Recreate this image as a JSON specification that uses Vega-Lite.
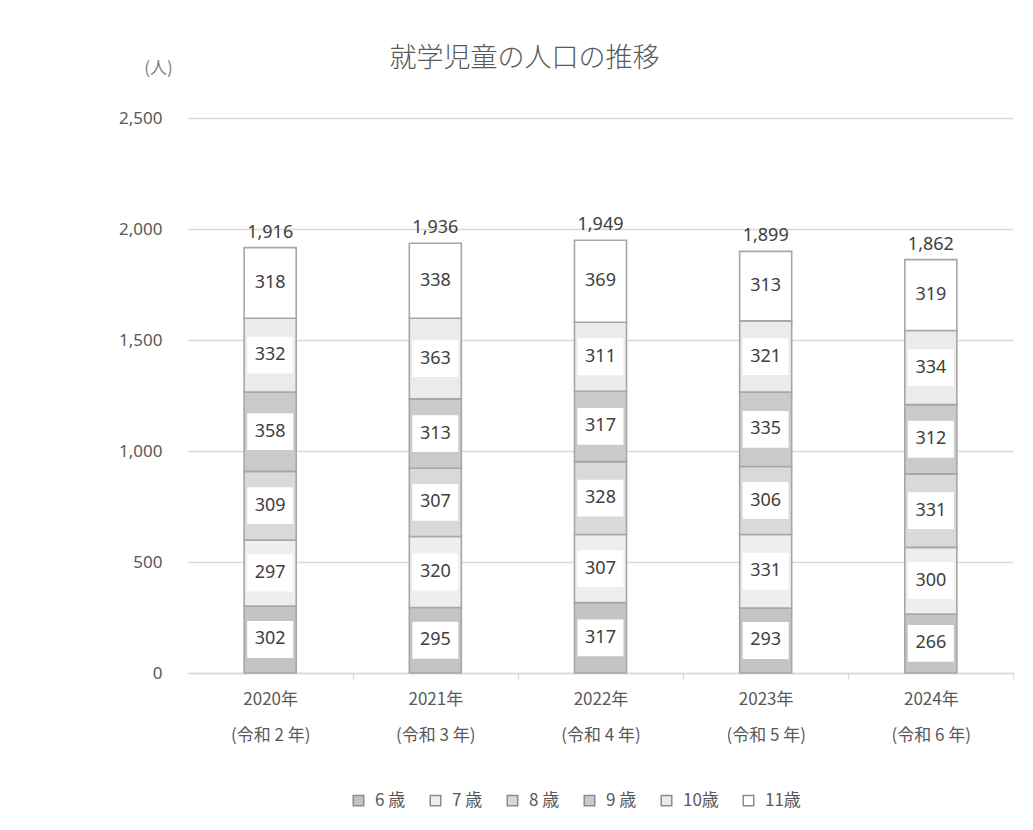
{
  "$schema": "https://vega.github.io/schema/vega-lite/v6.json",
  "autosize": "none",
  "width": 825,
  "height": 555,
  "padding": {"left": 188, "top": 118, "right": 20, "bottom": 157},
  "background": "white",
  "title": {
    "text": "就学児童の人口の推移",
    "anchor": "middle",
    "dx": -76,
    "offset": -14,
    "fontSize": 27,
    "font": "Noto Sans CJK JP",
    "fontWeight": 300,
    "color": "#595959"
  },
  "data": {
    "values": [
      {"year": "2020年|(令和 2 年)", "age": "6 歳", "order": 1, "value": 302},
      {"year": "2020年|(令和 2 年)", "age": "7 歳", "order": 2, "value": 297},
      {"year": "2020年|(令和 2 年)", "age": "8 歳", "order": 3, "value": 309},
      {"year": "2020年|(令和 2 年)", "age": "9 歳", "order": 4, "value": 358},
      {"year": "2020年|(令和 2 年)", "age": "10歳", "order": 5, "value": 332},
      {"year": "2020年|(令和 2 年)", "age": "11歳", "order": 6, "value": 318},
      {"year": "2021年|(令和 3 年)", "age": "6 歳", "order": 1, "value": 295},
      {"year": "2021年|(令和 3 年)", "age": "7 歳", "order": 2, "value": 320},
      {"year": "2021年|(令和 3 年)", "age": "8 歳", "order": 3, "value": 307},
      {"year": "2021年|(令和 3 年)", "age": "9 歳", "order": 4, "value": 313},
      {"year": "2021年|(令和 3 年)", "age": "10歳", "order": 5, "value": 363},
      {"year": "2021年|(令和 3 年)", "age": "11歳", "order": 6, "value": 338},
      {"year": "2022年|(令和 4 年)", "age": "6 歳", "order": 1, "value": 317},
      {"year": "2022年|(令和 4 年)", "age": "7 歳", "order": 2, "value": 307},
      {"year": "2022年|(令和 4 年)", "age": "8 歳", "order": 3, "value": 328},
      {"year": "2022年|(令和 4 年)", "age": "9 歳", "order": 4, "value": 317},
      {"year": "2022年|(令和 4 年)", "age": "10歳", "order": 5, "value": 311},
      {"year": "2022年|(令和 4 年)", "age": "11歳", "order": 6, "value": 369},
      {"year": "2023年|(令和 5 年)", "age": "6 歳", "order": 1, "value": 293},
      {"year": "2023年|(令和 5 年)", "age": "7 歳", "order": 2, "value": 331},
      {"year": "2023年|(令和 5 年)", "age": "8 歳", "order": 3, "value": 306},
      {"year": "2023年|(令和 5 年)", "age": "9 歳", "order": 4, "value": 335},
      {"year": "2023年|(令和 5 年)", "age": "10歳", "order": 5, "value": 321},
      {"year": "2023年|(令和 5 年)", "age": "11歳", "order": 6, "value": 313},
      {"year": "2024年|(令和 6 年)", "age": "6 歳", "order": 1, "value": 266},
      {"year": "2024年|(令和 6 年)", "age": "7 歳", "order": 2, "value": 300},
      {"year": "2024年|(令和 6 年)", "age": "8 歳", "order": 3, "value": 331},
      {"year": "2024年|(令和 6 年)", "age": "9 歳", "order": 4, "value": 312},
      {"year": "2024年|(令和 6 年)", "age": "10歳", "order": 5, "value": 334},
      {"year": "2024年|(令和 6 年)", "age": "11歳", "order": 6, "value": 319}
    ]
  },
  "transform": [
    {"stack": "value", "groupby": ["year"], "sort": [{"field": "order", "order": "ascending"}], "as": ["y0", "y1"]},
    {"calculate": "(datum.y0 + datum.y1) / 2", "as": "mid"}
  ],
  "encoding": {
    "x": {
      "field": "year",
      "type": "nominal",
      "sort": null,
      "title": null,
      "scale": {"paddingInner": 0.685, "paddingOuter": 0.34},
      "axis": {
        "labelExpr": "split(datum.label, '|')",
        "labelAngle": 0,
        "labelFontSize": 17,
        "labelFont": "Noto Sans CJK JP",
        "labelColor": "#595959",
        "labelLineHeight": 36,
        "labelPadding": 12,
        "ticks": true,
        "tickOffset": 82.5,
        "labelOffset": -82.5,
        "tickColor": "#d9d9d9",
        "tickSize": 6,
        "tickWidth": 1.3,
        "domainColor": "#d9d9d9",
        "domainWidth": 1.3,
        "grid": false
      }
    }
  },
  "layer": [
    {
      "mark": {"type": "bar", "stroke": "#a6a6a6", "strokeWidth": 1.6},
      "encoding": {
        "y": {
          "field": "y0",
          "type": "quantitative",
          "scale": {"domain": [0, 2500], "nice": false},
          "axis": {
            "values": [0, 500, 1000, 1500, 2000, 2500],
            "format": ",d",
            "title": "(人)",
            "titleAngle": 0,
            "titleX": -30,
            "titleY": -50,
            "titleAlign": "center",
            "titleBaseline": "middle",
            "titleFontSize": 17,
            "titleFontWeight": "normal",
            "titleFont": "Noto Sans CJK JP",
            "titleColor": "#7f7f7f",
            "labelFontSize": 17,
            "labelFont": "Noto Sans",
            "labelColor": "#595959",
            "labelPadding": 26,
            "ticks": false,
            "domain": false,
            "gridColor": "#d9d9d9",
            "gridWidth": 1.3
          }
        },
        "y2": {"field": "y1"},
        "color": {
          "field": "age",
          "type": "nominal",
          "sort": ["6 歳", "7 歳", "8 歳", "9 歳", "10歳", "11歳"],
          "scale": {
            "domain": ["6 歳", "7 歳", "8 歳", "9 歳", "10歳", "11歳"],
            "range": ["#c4c4c4", "#eeeeee", "#d9d9d9", "#cbcbcb", "#ebebeb", "#ffffff"]
          },
          "legend": {
            "title": null,
            "orient": "none",
            "direction": "horizontal",
            "legendX": 162,
            "legendY": 674,
            "symbolType": "square",
            "symbolSize": 110,
            "symbolStrokeColor": "#8c8c8c",
            "symbolStrokeWidth": 1.5,
            "labelFontSize": 17,
            "labelFont": "Noto Sans CJK JP",
            "labelColor": "#595959",
            "labelOffset": 8,
            "columnPadding": 21
          }
        }
      }
    },
    {
      "mark": {"type": "point", "shape": "M-1,-0.8H1V0.8H-1Z", "filled": true, "fill": "white", "opacity": 1, "strokeWidth": 0, "size": 2116},
      "encoding": {
        "y": {"field": "mid", "type": "quantitative"}
      }
    },
    {
      "mark": {"type": "text", "fontSize": 18, "font": "Noto Sans", "color": "#404040", "baseline": "middle"},
      "encoding": {
        "y": {"field": "mid", "type": "quantitative"},
        "text": {"field": "value", "type": "quantitative"}
      }
    },
    {
      "transform": [{"aggregate": [{"op": "sum", "field": "value", "as": "total"}], "groupby": ["year"]}],
      "mark": {"type": "text", "fontSize": 18, "font": "Noto Sans", "color": "#404040", "baseline": "bottom", "dy": -6},
      "encoding": {
        "y": {"field": "total", "type": "quantitative"},
        "text": {"field": "total", "type": "quantitative", "format": ","}
      }
    }
  ],
  "config": {
    "view": {"stroke": null}
  }
}
